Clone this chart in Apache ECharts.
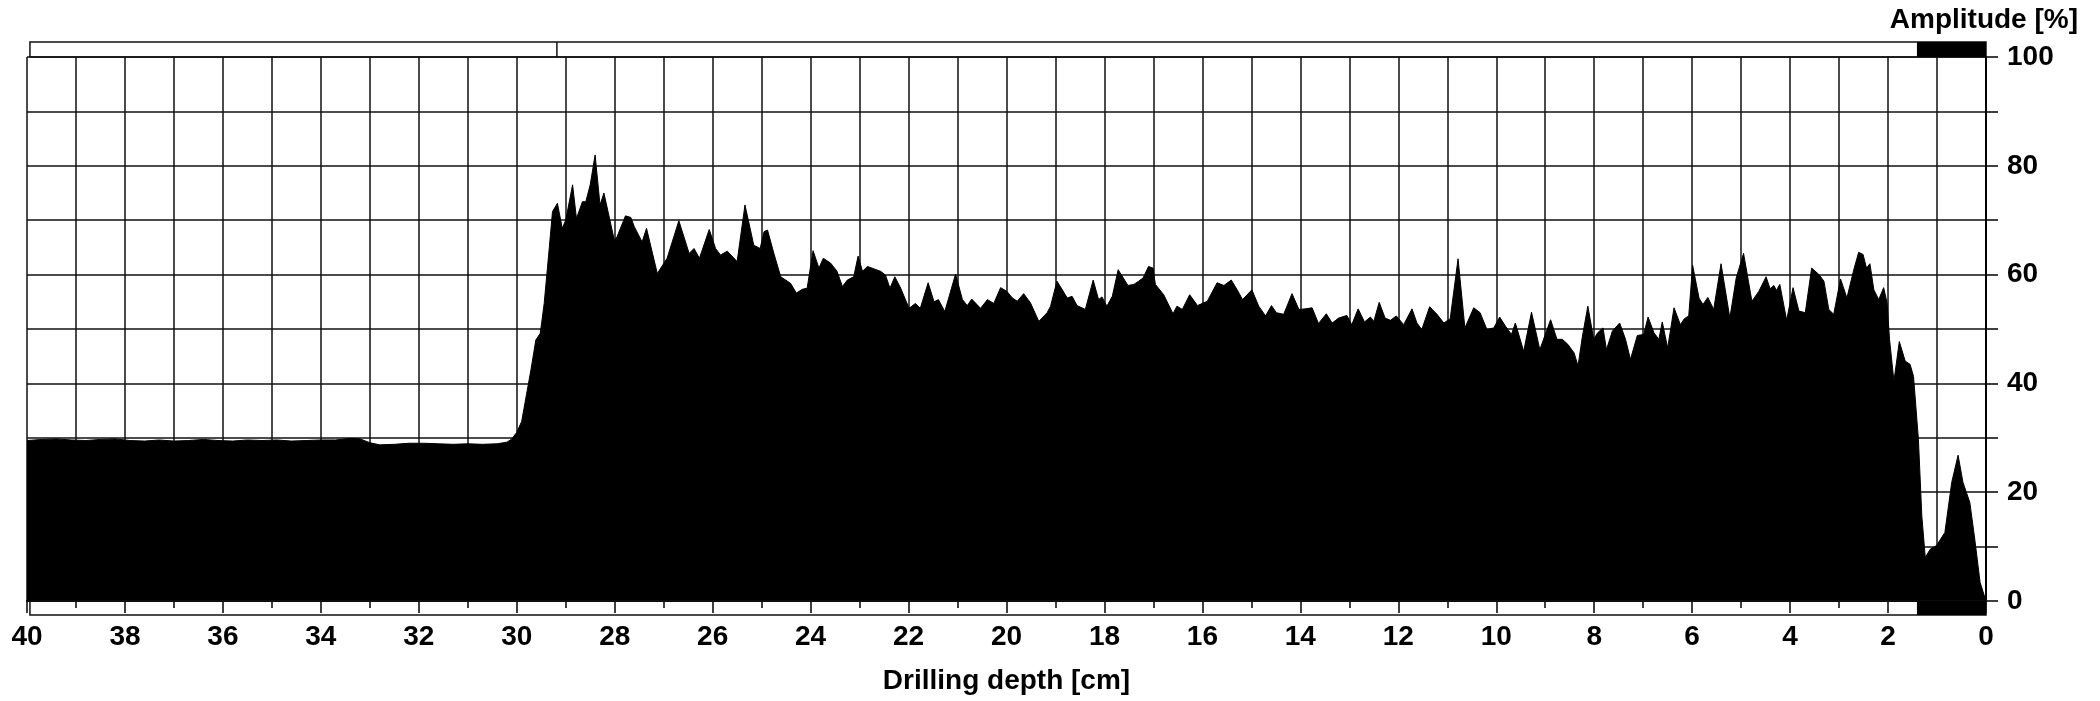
<!DOCTYPE html>
<html><head><meta charset="utf-8">
<script src="https://cdn.jsdelivr.net/npm/echarts@6/dist/echarts.min.js"></script>
<style>html,body{margin:0;padding:0;background:#fff}#c{width:2100px;height:701px}</style>
</head><body><div id="c"></div>
<script>
// Drilling depth [cm] (x) and amplitude [%] (y)
const depth = [
40.0,39.7,39.4,39.1,38.8,38.5,38.2,37.9,37.6,37.3,37.0,36.7,36.4,36.1,35.8,35.5,35.2,34.9,34.6,34.3,34.0,33.7,33.4,33.2,33.0,32.8,32.5,32.2,31.9,31.6,31.3,31.0,30.7,30.4,30.2,30.1,30.0,29.9,29.8,
29.71,29.61,29.52,29.44,29.34,29.27,29.17,29.07,29.0,28.86,28.78,28.66,28.59,28.5,28.4,28.3,28.22,28.01,27.95,27.78,27.67,27.6,27.44,27.35,27.13,26.93,26.69,26.48,26.38,26.27,26.07,25.94,25.84,25.7,25.5,25.34,25.16,25.03,24.95,24.88,24.75,24.61,24.41,24.29,24.17,24.07,23.95,23.83,23.74,23.59,23.46,23.35,23.25,23.12,23.03,22.94,22.84,22.57,22.47,22.38,22.28,22.16,21.99,21.86,21.76,21.6,21.48,21.39,21.26,21.04,20.9,20.8,20.71,20.53,20.39,20.26,
20.12,19.99,19.88,19.78,19.65,19.51,19.34,19.17,19.1,18.97,18.86,18.76,18.66,18.56,18.39,18.23,18.12,18.05,17.95,17.84,17.72,17.52,17.4,17.3,17.21,17.1,17.01,16.96,16.79,16.6,16.52,16.41,16.26,16.1,15.9,15.7,15.56,15.41,15.29,15.18,14.99,14.85,14.71,14.59,14.49,14.34,14.17,14.03,13.9,13.76,13.63,13.47,13.35,13.22,13.05,12.95,12.82,12.69,12.57,12.5,12.39,12.27,12.16,12.04,11.89,11.72,11.62,11.52,11.36,11.21,11.07,10.94,10.78,10.64,10.46,10.33,10.19,
10.05,9.93,9.81,9.69,9.61,9.44,9.28,9.11,8.89,8.76,8.65,8.54,8.41,8.33,8.24,8.13,8.01,7.93,7.82,7.75,7.63,7.48,7.36,7.26,7.12,6.99,6.9,6.78,6.68,6.61,6.5,6.37,6.24,6.16,6.07,5.99,5.86,5.78,5.68,5.56,5.41,5.23,5.1,4.95,4.78,4.64,4.49,4.41,4.33,4.28,4.21,4.07,3.94,3.82,3.69,3.56,3.41,3.31,3.21,3.11,2.97,2.84,2.7,2.6,2.51,2.44,2.37,2.29,2.19,2.09,2.02,
1.97,1.88,1.77,1.65,1.55,1.48,1.38,1.31,1.24,1.14,1.01,0.84,0.7,0.57,0.47,0.33,0.23,0.12,0.0
];
const amplitude = [
29.5,29.7,29.8,29.6,29.5,29.7,29.8,29.5,29.4,29.6,29.4,29.5,29.7,29.5,29.4,29.6,29.5,29.6,29.4,29.5,29.6,29.6,29.9,29.8,29.1,28.7,28.8,29.0,29.0,28.9,28.8,28.9,28.8,28.9,29.2,29.8,31,33,38,
42.5,48,49.2,54.7,64.5,71.6,73.1,68.5,70,76.5,70.3,73.4,73.4,76.5,82,72.8,75,66.4,67,70.8,70.5,68.8,66,68.5,60.2,63,69.9,63.9,64.8,63,68.3,64.8,63.6,64.3,62.4,72.8,65.4,64.8,67.9,68.2,63.9,59.6,58.4,56.6,57.3,57.5,64.4,61.2,63,62.1,60.6,57.8,59,59.6,63.4,60.6,61.5,60.6,59.9,57.5,59.6,57.5,53.8,54.7,53.8,58.5,55,55.4,53.2,60.1,55.4,54.3,55.5,53.8,55.4,54.7,
57.6,56.9,55.7,55.1,56.5,54.8,51.4,53,54.2,58.8,57.2,55.7,56,54.3,53.6,59,55.4,55.9,54.2,56,60.9,58,58.2,58.8,59.4,61.5,61.2,58.2,56.3,52.8,54.2,53.6,56.3,54.3,55.1,58.5,58,59,57.2,55.4,57.2,54.2,52.4,54.3,53,52.7,56.5,53.6,53.7,53.9,51,52.8,51.1,52,52.5,50.8,53.7,51.3,52.2,51.4,54.9,52,51.6,52.4,50.8,53.7,51.1,49.9,54.1,52.7,51.1,51.9,62.9,50.2,53.9,53,49.9,
50.2,52.2,50.5,49,51.1,45.9,53.1,46.2,51.7,48.1,48.1,47.2,45.6,43.2,48.7,54.2,48.1,49.3,50.2,46.2,49.6,51.1,48.1,44.4,48.8,49,52.2,49.3,48.1,51.3,46.5,53.9,50.8,51.9,52.4,61.7,55.7,54.5,55.8,53.6,62,52,59.4,63.9,55.1,56.9,59.6,57.4,58,57.1,58.2,51.6,57.6,53.3,53,61.2,60,58.8,53.6,52.7,59.2,55.7,60.9,64.1,63.7,61.2,62,57.2,55.4,57.6,54.8,
48.1,40.4,47.7,44.1,43.5,41.3,29.7,15.6,8.0,9.5,10.2,12.6,21.8,26.8,21.8,18.1,11.4,3.4,0
];
const yLabelValues = [0, 20, 40, 60, 80, 100];
const xAxisName = 'Drilling depth [cm]';
const yAxisName = 'Amplitude [%]';
// marker bars (depth values)
const barStart = 39.94, barDivider = 29.18, markFrom = 1.41, markTo = 0;

const FONT = '"Liberation Sans", Arial, sans-serif';
const chart = echarts.init(document.getElementById('c'), null, {renderer: 'canvas'});
const pts = depth.map((d, i) => [d, amplitude[i]]);
const gridLine = {color: '#111', width: 1.5};
const txt = {fontFamily: FONT, fontWeight: 'bold', fontSize: 28, color: '#000'};

chart.setOption({
  animation: false,
  backgroundColor: '#fff',
  title: {text: yAxisName, right: 22, top: 6, padding: 0, textStyle: txt},
  grid: {left: 27, right: 114, top: 57, bottom: 100, containLabel: false},
  xAxis: {
    type: 'value', min: 0, max: 40, interval: 2, inverse: true,
    name: xAxisName, nameLocation: 'middle', nameGap: 66, nameTextStyle: txt,
    axisLine: {show: true, onZero: false, lineStyle: {color: '#000', width: 2}},
    axisTick: {show: true, length: 12, lineStyle: {color: '#000', width: 1.5}},
    minorTick: {show: true, splitNumber: 2, length: 7, lineStyle: {color: '#000', width: 1.5}},
    splitLine: {show: true, lineStyle: gridLine},
    minorSplitLine: {show: true, lineStyle: gridLine},
    axisLabel: Object.assign({margin: 22, showMinLabel: true, showMaxLabel: true}, txt)
  },
  yAxis: {
    type: 'value', position: 'right', min: 0, max: 100, interval: 10,
    axisLine: {show: true, onZero: false, lineStyle: {color: '#000', width: 2}},
    axisTick: {show: true, length: 12, lineStyle: {color: '#000', width: 1.5}},
    splitLine: {show: true, lineStyle: gridLine},
    axisLabel: Object.assign({margin: 21, formatter: v => yLabelValues.includes(v) ? String(v) : ''}, txt)
  },
  series: [{
    type: 'line', data: pts, symbol: 'none', smooth: false, z: 3,
    lineStyle: {color: '#000', width: 1},
    areaStyle: {color: '#000', opacity: 1}
  }]
});

function px(d) { return chart.convertToPixel({xAxisIndex: 0}, d); }
function py(v) { return chart.convertToPixel({yAxisIndex: 0}, v); }
const yTop = py(100), yBot = py(0), barH = 15;
const xS = px(barStart), xE = px(markTo), xDiv = px(barDivider), xM = px(markFrom);
const stroke = {stroke: '#111', lineWidth: 1.5, fill: null};
chart.setOption({
  graphic: [
    {type: 'rect', z: 10, shape: {x: xS, y: yTop - barH, width: xE - xS, height: barH}, style: stroke},
    {type: 'line', z: 10, shape: {x1: xDiv, y1: yTop - barH, x2: xDiv, y2: yTop}, style: {stroke: '#111', lineWidth: 1.5}},
    {type: 'rect', z: 11, shape: {x: xM, y: yTop - barH, width: xE - xM, height: barH}, style: {fill: '#000'}},
    {type: 'rect', z: 10, shape: {x: xS, y: yBot, width: xE - xS, height: barH - 1}, style: stroke},
    {type: 'rect', z: 11, shape: {x: xM, y: yBot, width: xE - xM, height: barH - 1}, style: {fill: '#000'}}
  ]
});
</script></body></html>
